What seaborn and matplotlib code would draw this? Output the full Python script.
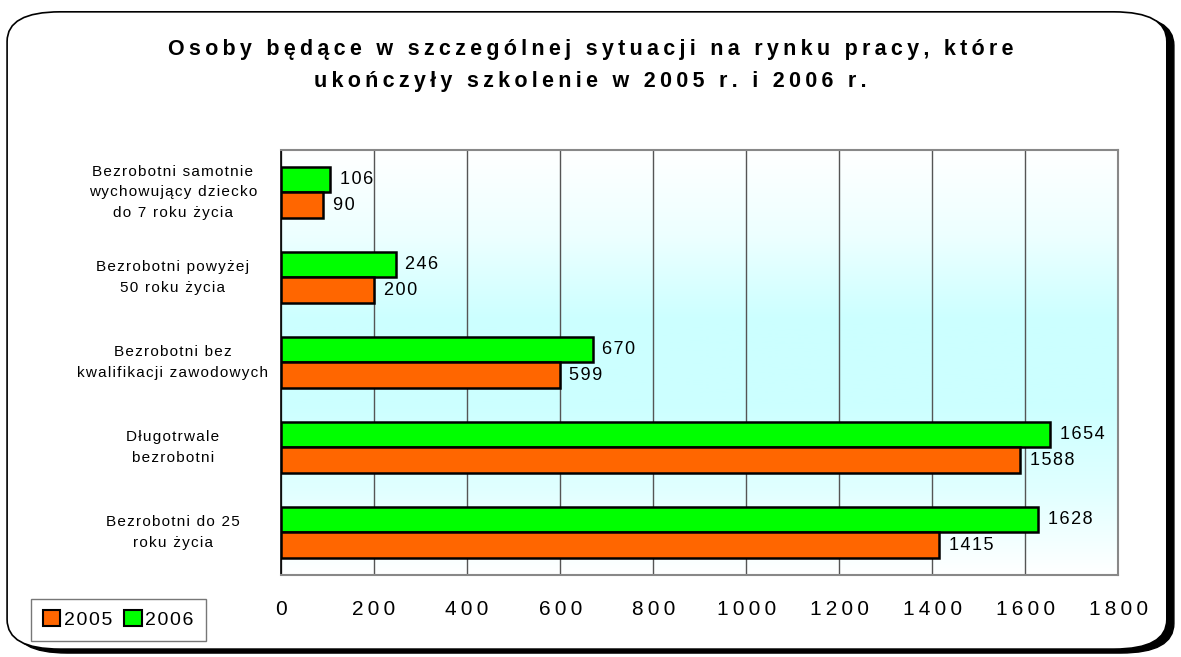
import numpy as np
import pandas as pd
import matplotlib
matplotlib.use("Agg")
import matplotlib.pyplot as plt
import seaborn as sns
from matplotlib.patches import FancyBboxPatch, Patch

# ── Data ──────────────────────────────────────────────────────────────────────
categories = [
    "Bezrobotni samotnie\nwychowujący dziecko\ndo 7 roku życia",
    "Bezrobotni powyżej\n50 roku życia",
    "Bezrobotni bez\nkwalifikacji zawodowych",
    "Długotrwale\nbezrobotni",
    "Bezrobotni do 25\nroku życia",
]
values_2005 = [90, 200, 599, 1588, 1415]
values_2006 = [106, 246, 670, 1654, 1628]
years = ["2005", "2006"]
x_ticks = [0, 200, 400, 600, 800, 1000, 1200, 1400, 1600, 1800]

TITLE = ("Osoby będące w szczególnej sytuacji na rynku pracy, które\n"
         "ukończyły szkolenie w 2005 r. i 2006 r.")
COLORS = {"2005": "#FF6600", "2006": "#00FF00"}

THIN, HAIR = "\u2009", "\u200a"


def spaced(s: str, gap: str = THIN) -> str:
    # the original chart uses wide letter tracking; mimic with narrow spaces
    return "\n".join(gap.join(line) for line in s.split("\n"))


df = pd.DataFrame({
    "kategoria": categories * 2,
    "rok": ["2005"] * len(categories) + ["2006"] * len(categories),
    "wartosc": values_2005 + values_2006,
})

# ── Plot ──────────────────────────────────────────────────────────────────────
sns.set_style("white")
plt.rcParams["font.family"] = ["Liberation Sans", "DejaVu Sans"]
plt.rcParams["text.color"] = "black"
plt.rcParams["xtick.color"] = "black"
plt.rcParams["ytick.color"] = "black"

fig = plt.figure(figsize=(11.81, 6.57), dpi=100)
ax = fig.add_axes([0.238, 0.125, 0.709, 0.647])

# rounded outer frame with shadow
shadow = FancyBboxPatch((0.012, 0.006), 0.982, 0.97, transform=fig.transFigure,
                        boxstyle="round,pad=0,rounding_size=0.045",
                        facecolor="black", edgecolor="black", zorder=-2)
frame = FancyBboxPatch((0.006, 0.012), 0.982, 0.97, transform=fig.transFigure,
                       boxstyle="round,pad=0,rounding_size=0.045",
                       facecolor="white", edgecolor="black", lw=1.2, zorder=-1)
fig.patches.extend([shadow, frame])

# gradient background of the plot area
grad = np.array([0.0, 0.35, 1.0, 1.0, 0.6, 0.0])
grad = np.interp(np.linspace(0, 1, 200), np.linspace(0, 1, len(grad)), grad)
cmap = matplotlib.colors.LinearSegmentedColormap.from_list("bg", ["#FFFFFF", "#CCFFFF"])
ax.imshow(grad[:, None], aspect="auto", cmap=cmap, vmin=0, vmax=1,
          extent=[0, 1800, len(categories) - 0.5, -0.5], zorder=0)

sns.barplot(data=df, y="kategoria", x="wartosc", hue="rok",
            hue_order=["2006", "2005"], palette=COLORS, orient="h",
            width=0.6, edgecolor="black", linewidth=1.8, saturation=1,
            dodge=True, legend=False, ax=ax, zorder=3)

for cont in ax.containers:
    ax.bar_label(cont, labels=[spaced(f"{v:.0f}", HAIR) for v in cont.datavalues],
                 padding=7, fontsize=13, color="black")

ax.set_xlim(0, 1800)
ax.set_ylim(len(categories) - 0.5, -0.5)
ax.set_xticks(x_ticks)
ax.set_xticklabels([spaced(str(t)) for t in x_ticks], fontsize=15)
ax.xaxis.grid(True, color="#555555", lw=1, zorder=1)
ax.set_axisbelow(True)
ax.set_xlabel("")
ax.set_ylabel("")

ax.set_yticks(range(len(categories)))
ax.set_yticklabels([spaced(c, HAIR) for c in categories], fontsize=11,
                   ha="center", va="center", multialignment="center",
                   linespacing=1.6)
ax.tick_params(axis="y", length=0, pad=78)
ax.set_yticks(np.arange(-0.5, len(categories)), minor=True)
ax.tick_params(axis="y", which="minor", length=6, width=1, color="black", direction="out")
ax.tick_params(axis="x", length=6, width=1, color="black", direction="out", pad=12)

for side in ["top", "right", "bottom"]:
    ax.spines[side].set_color("#888888")
    ax.spines[side].set_linewidth(1.5)
ax.spines["left"].set_color("black")
ax.spines["left"].set_linewidth(1.2)

fig.text(0.5, 0.9, spaced(TITLE), ha="center", va="center", fontsize=15.5,
         fontweight="bold", linespacing=1.7)

handles = [Patch(facecolor=COLORS[y], edgecolor="black", lw=1.5, label=spaced(y, HAIR))
           for y in years]
fig.legend(handles=handles, loc="lower left", bbox_to_anchor=(0.018, 0.01),
           ncol=2, frameon=True, fancybox=False, edgecolor="#555555",
           fontsize=14, handlelength=0.9, handleheight=0.9, handletextpad=0.2,
           columnspacing=0.6, borderpad=0.6)

fig.savefig("out.png", dpi=100)
